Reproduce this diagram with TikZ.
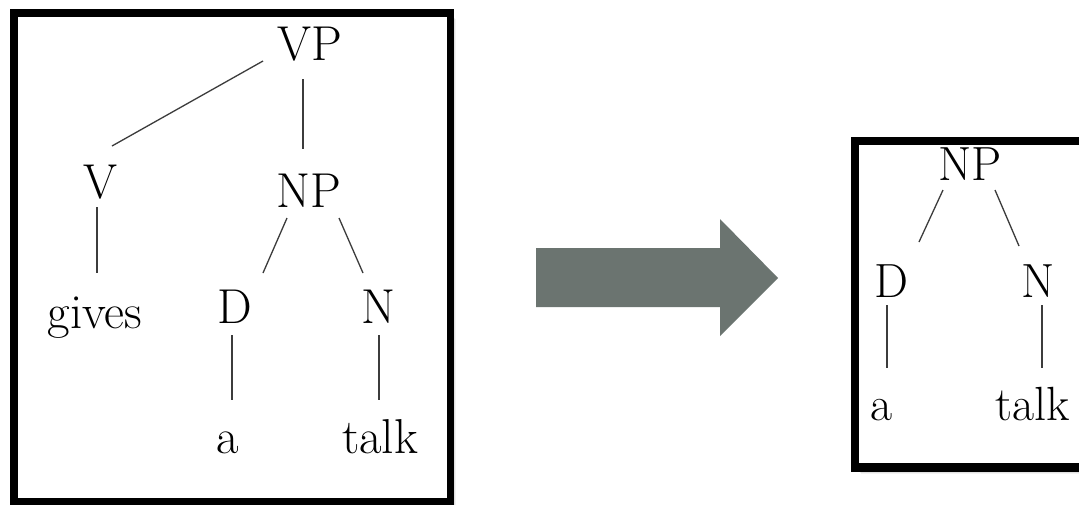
\documentclass[tikz,border=0pt]{standalone}
\usepackage{fontspec}
\usetikzlibrary{calc}
\definecolor{arrowgray}{RGB}{107,116,112}
\definecolor{edgegray}{RGB}{60,60,60}
\tikzset{
  lbl/.style={inner sep=0pt, anchor=base, font=\rmfamily\fontsize{49}{58}\selectfont\addfontfeature{FakeBold=0.8}},
  lblr/.style={inner sep=0pt, anchor=base, font=\rmfamily\fontsize{48}{57}\selectfont\addfontfeature{FakeBold=0.8}},
  edge/.style={draw=edgegray, line width=1.3pt},
  frame/.style={draw=black, line width=8pt, fill=white},
}
\begin{document}
\begin{tikzpicture}[x=1pt,y=-1pt]
\useasboundingbox (0,0) rectangle (1079,504);
\clip (0,0) rectangle (1079,504);
\fill[white] (0,0) rectangle (1079,504);
% shadows
\foreach \o/\op in {6/0.05,5/0.07,4/0.09,3/0.11} {
  \fill[black,opacity=\op] (13.75+\o,12.75+\o) rectangle (450.25+\o,501.5+\o);
  \fill[black,opacity=\op] (855+\o,141+\o) rectangle (1095+\o,467.5+\o);
}
% frames
\draw[frame, line width=7.5pt] (13.75,12.75) rectangle (450.25,501.75);
\draw[frame, line width=8.5pt] (855,141) rectangle (1095,467.5);
% block arrow
\fill[arrowgray] (536,248) -- (720,248) -- (720,219) -- (778,278) -- (720,336) -- (720,307) -- (536,307) -- cycle;

% left tree
\node[lbl] (VP) at (310,60) {VP};
\node[lbl] (V) at (100,198) {V};
\node[lbl] (NP) at (309,207) {NP};
\node[lbl] (gives) at (95,328) {gives};
\node[lbl] (D) at (235,323) {D};
\node[lbl] (N) at (378,323) {N};
\node[lbl] (a) at (228,453) {a};
\node[lbl] (talk) at (380,453) {talk};
\draw[edge] ($(VP.base)+(-47,1)$) -- ($(V.base)+(12,-52)$);
\draw[edge] ($(VP.base)+(-7,19)$) -- ($(NP.base)+(-6,-58)$);
\draw[edge] ($(V.base)+(-3,9)$) -- ($(gives.base)+(2,-55)$);
\draw[edge] ($(NP.base)+(-22,11)$) -- ($(D.base)+(28,-50)$);
\draw[edge] ($(NP.base)+(30,11)$) -- ($(N.base)+(-15,-50)$);
\draw[edge] ($(D.base)+(-3,12)$) -- ($(a.base)+(4,-53)$);
\draw[edge] ($(N.base)+(1,12)$) -- ($(talk.base)+(-1,-53)$);

% right tree
\node[lblr] (NP2) at (970,180) {NP};
\node[lblr] (D2) at (891,297) {D};
\node[lblr] (N2) at (1038,297) {N};
\node[lblr] (a2) at (882,420) {a};
\node[lblr] (talk2) at (1033,420) {talk};
\draw[edge] ($(NP2.base)+(-27,10)$) -- ($(D2.base)+(28,-55)$);
\draw[edge] ($(NP2.base)+(25,10)$) -- ($(N2.base)+(-19,-51)$);
\draw[edge] ($(D2.base)+(-4,8)$) -- ($(a2.base)+(5,-52)$);
\draw[edge] ($(N2.base)+(4,8)$) -- ($(talk2.base)+(9,-52)$);
\end{tikzpicture}
\end{document}
